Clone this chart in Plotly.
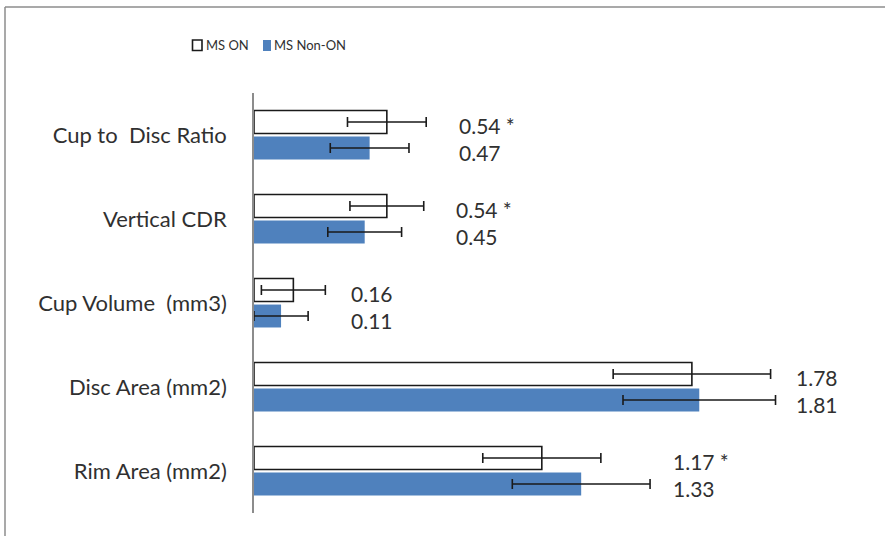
import plotly.graph_objects as go

categories = ["Cup to  Disc Ratio", "Vertical CDR", "Cup Volume  (mm3)", "Disc Area (mm2)", "Rim Area (mm2)"]
ms_on = [0.54, 0.54, 0.16, 1.78, 1.17]
ms_on_err = [0.16, 0.15, 0.13, 0.32, 0.24]
ms_non_on = [0.47, 0.45, 0.11, 1.81, 1.33]
ms_non_on_err = [0.16, 0.15, 0.11, 0.31, 0.28]
ms_on_labels = ["0.54 *", "0.54 *", "0.16", "1.78", "1.17 *"]
ms_non_on_labels = ["0.47", "0.45", "0.11", "1.81", "1.33"]
series_names = ["MS ON", "MS Non-ON"]
label_gap_px = [31, 30, 24, 18, 21]

W, H = 885, 536
L, R, T, B = 254, 5, 93, 23
px_per_unit = 246.0
pw = W - L - R
ph = H - T - B
xmax = pw / px_per_unit

FONT = "Lato"
TXT = "#303030"
BLUE = "#4F81BD"


def px_x(p):
    return (p - L) / pw


def px_y(p):
    return 1 - (p - T) / ph


fig = go.Figure()
fig.add_trace(go.Bar(
    y=categories, x=ms_on, orientation="h", name=series_names[0],
    marker=dict(color="white", line=dict(color="#1a1a1a", width=1.6)),
    error_x=dict(type="data", array=ms_on_err, color="#1a1a1a", thickness=1.6, width=5),
))
fig.add_trace(go.Bar(
    y=categories, x=ms_non_on, orientation="h", name=series_names[1],
    marker=dict(color=BLUE, line=dict(color=BLUE, width=0)),
    error_x=dict(type="data", array=ms_non_on_err, color="#1a1a1a", thickness=1.6, width=5),
))

for i, c in enumerate(categories):
    xe = max(ms_on[i] + ms_on_err[i], ms_non_on[i] + ms_non_on_err[i])
    fig.add_annotation(x=xe, y=c, text=ms_on_labels[i], showarrow=False,
                       xanchor="left", yanchor="middle", xshift=label_gap_px[i], yshift=10,
                       font=dict(family=FONT, size=21, color=TXT))
    fig.add_annotation(x=xe, y=c, text=ms_non_on_labels[i], showarrow=False,
                       xanchor="left", yanchor="middle", xshift=label_gap_px[i], yshift=-17,
                       font=dict(family=FONT, size=21, color=TXT))

# outer chart frame (only top and left edges visible in the original)
fig.add_shape(type="line", xref="paper", yref="paper",
              x0=px_x(5), x1=px_x(W + 20), y0=px_y(7), y1=px_y(7),
              line=dict(color="#8c8c8c", width=1.5), layer="below")
fig.add_shape(type="line", xref="paper", yref="paper",
              x0=px_x(5), x1=px_x(5), y0=px_y(7), y1=px_y(H + 20),
              line=dict(color="#8c8c8c", width=1.5), layer="below")

# custom legend (compact spacing as in original)
fig.add_shape(type="rect", xref="paper", yref="paper",
              x0=px_x(192.5), x1=px_x(202), y0=px_y(50.5), y1=px_y(40),
              line=dict(color="#1a1a1a", width=1.6), fillcolor="white")
fig.add_annotation(xref="paper", yref="paper", x=px_x(204), y=px_y(45.5), text=series_names[0],
                   showarrow=False, xanchor="left", yanchor="middle",
                   font=dict(family=FONT, size=13, color=TXT))
fig.add_shape(type="rect", xref="paper", yref="paper",
              x0=px_x(263), x1=px_x(271), y0=px_y(51), y1=px_y(40),
              line=dict(width=0), fillcolor=BLUE)
fig.add_annotation(xref="paper", yref="paper", x=px_x(272), y=px_y(45.5), text=series_names[1],
                   showarrow=False, xanchor="left", yanchor="middle",
                   font=dict(family=FONT, size=13, color=TXT))

fig.update_layout(
    width=W, height=H,
    margin=dict(l=L, r=R, t=T, b=B, pad=0, autoexpand=False),
    paper_bgcolor="white", plot_bgcolor="white",
    barmode="group", bargap=0.38, bargroupgap=0.12,
    font=dict(family=FONT, size=22, color=TXT),
    showlegend=False,
    xaxis=dict(range=[0, xmax], showgrid=False, zeroline=False, showline=False,
               showticklabels=False, ticks="", automargin=False),
    yaxis=dict(autorange="reversed", showgrid=False, zeroline=False,
               showline=True, linecolor="#8c8c8c", linewidth=1.5,
               ticks="", ticklabelstandoff=21, automargin=False,
               tickfont=dict(family=FONT, size=22, color=TXT)),
)

fig.write_html("out.html", config={"displayModeBar": False},
               post_script="document.body.style.margin='0';document.body.style.overflow='hidden';")
